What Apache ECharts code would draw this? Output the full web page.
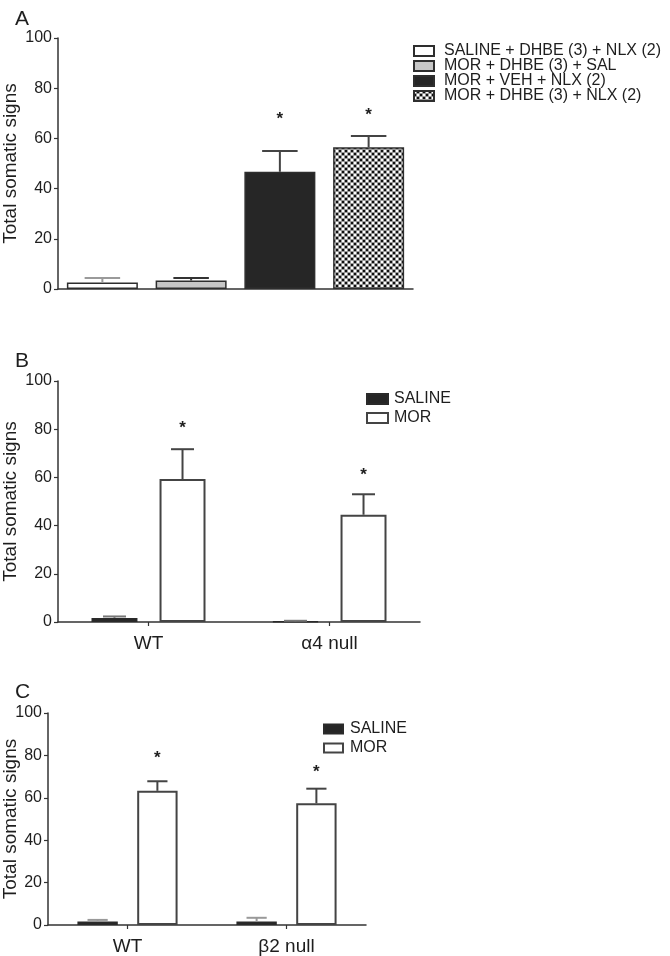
<!DOCTYPE html>
<html><head><meta charset="utf-8">
<script src="https://cdn.jsdelivr.net/npm/echarts@6/dist/echarts.min.js"></script>
<style>html,body{margin:0;padding:0;background:#fff}#c{width:670px;height:956px}</style>
</head><body><div id="c"></div>
<script>
// ---- Panel A data ----
const groupsA = ['SALINE + DHBE (3) + NLX (2)', 'MOR + DHBE (3) + SAL', 'MOR + VEH + NLX (2)', 'MOR + DHBE (3) + NLX (2)'];
const meansA = [2.6, 3.4, 46.7, 56.5];
const errsA = [1.8, 1.0, 8.3, 4.5];
const starsA = [null, null, 68.6, 70.0];
// ---- Panel B data ----
const catsB = ['WT', 'α4 null'];
const salineB = [1.7, 0.3];
const salineErrB = [0.6, 0.2];
const morB = [59.3, 44.5];
const morErrB = [12.4, 8.5];
const starsB = [81.0, 61.9];
// ---- Panel C data ----
const catsC = ['WT', 'β2 null'];
const salineC = [1.6, 1.6];
const salineErrC = [0.8, 1.8];
const morC = [63.3, 57.4];
const morErrC = [4.5, 6.9];
const starsC = [79.4, 72.8];
const yTicks = [0, 20, 40, 60, 80, 100];

const FONT = "'Liberation Sans', Arial, sans-serif";
const TXT = '#1e1e1e';
const AX = '#333';

// checker pattern for 4th bar
const pc = document.createElement('canvas');
pc.width = 6; pc.height = 6;
const g = pc.getContext('2d');
g.fillStyle = '#9a9a9a'; g.fillRect(0,0,6,6);
g.fillStyle = '#ffffff'; g.fillRect(0,0,2,2); g.fillRect(3,3,2,2);
g.fillStyle = '#111111'; g.fillRect(3,0,2,2); g.fillRect(0,3,2,2);
const pattern = {image: pc, repeat: 'repeat'};

const chart = echarts.init(document.getElementById('c'), null, {renderer: 'canvas'});

function yAxis(gi, nameGap) {
  return {
    type: 'value', gridIndex: gi, min: 0, max: 100, interval: 20,
    name: 'Total somatic signs', nameLocation: 'middle', nameGap: nameGap, nameMoveOverlap: false,
    nameTextStyle: {fontFamily: FONT, fontSize: 19, color: TXT},
    axisLine: {show: true, lineStyle: {color: AX, width: 1.5}},
    axisTick: {show: true, length: 4, lineStyle: {color: AX, width: 1.2}},
    axisLabel: {fontFamily: FONT, fontSize: 16, color: TXT, margin: 6,
      formatter: v => yTicks.includes(v) ? String(v) : ''},
    splitLine: {show: false}
  };
}
function xAxis(gi, cats, showLab) {
  return {
    type: 'category', gridIndex: gi, data: cats,
    axisLine: {show: true, lineStyle: {color: AX, width: 1.5}},
    axisTick: {show: showLab, alignWithLabel: true, length: 4, lineStyle: {color: AX, width: 1.2}},
    axisLabel: {show: showLab, fontFamily: FONT, fontSize: 19, color: TXT, margin: 12}
  };
}
function errSeries(gi, means, errs, side, bwFrac, gapFrac, color) {
  return {
    type: 'custom', xAxisIndex: gi, yAxisIndex: gi, z: 5, silent: true,
    data: means.map((m, i) => [i, m, errs[i]]),
    renderItem: function (params, api) {
      const cat = api.value(0), m = api.value(1), e = api.value(2);
      const cw = api.size([1, 0])[0];
      const bw = cw * bwFrac;
      const off = side * (bw + bw * gapFrac) / 2;
      const p0 = api.coord([cat, m]);
      const p1 = api.coord([cat, m + e]);
      const x = p0[0] + off;
      const half = bw / 4;
      const c = Array.isArray(color) ? color[params.dataIndex] : color;
      return {type: 'group', children: [
        {type: 'line', shape: {x1: x, y1: p0[1], x2: x, y2: p1[1]}, style: {stroke: c, lineWidth: 2}},
        {type: 'line', shape: {x1: x - half, y1: p1[1], x2: x + half, y2: p1[1]}, style: {stroke: c, lineWidth: 2}}
      ]};
    }
  };
}
function starSeries(gi, stars, side, bwFrac, gapFrac) {
  return {
    type: 'custom', xAxisIndex: gi, yAxisIndex: gi, z: 6, silent: true,
    data: stars.map((s, i) => [i, s == null ? '-' : s]),
    renderItem: function (params, api) {
      const v = api.value(1);
      if (isNaN(v)) return null;
      const cat = api.value(0);
      const cw = api.size([1, 0])[0];
      const bw = cw * bwFrac;
      const off = side * (bw + bw * gapFrac) / 2;
      const p = api.coord([cat, v]);
      return {type: 'text', x: p[0] + off, y: p[1] + 2,
        style: {text: '*', fontFamily: FONT, fontSize: 17, fontWeight: 'bold', fill: TXT, align: 'center', verticalAlign: 'middle'}};
    }
  };
}
function aSeries(idx, style) {
  return {
    name: groupsA[idx], type: 'bar', xAxisIndex: 0, yAxisIndex: 0, stack: 'A', barWidth: '80%',
    data: meansA.map((v, i) => i === idx ? v : '-'),
    itemStyle: Object.assign({borderColor: '#2e2e2e', borderWidth: 1.5}, style)
  };
}
const BW = 0.254, GAP = 0.48;
function grpSeries(gi, name, vals, style) {
  return {
    name: name, type: 'bar', xAxisIndex: gi, yAxisIndex: gi, barWidth: (BW * 100) + '%', barGap: (GAP * 100) + '%',
    data: vals, itemStyle: style
  };
}
const salStyle = {color: '#262626', borderColor: '#2a2a2a', borderWidth: 1.5};
const morStyle = {color: '#ffffff', borderColor: '#444', borderWidth: 2};

const option = {
  backgroundColor: '#fff',
  animation: false,
  title: [
    {text: 'A', left: 10, top: 4, textStyle: {fontFamily: FONT, fontSize: 21, fontWeight: 'normal', color: TXT}},
    {text: 'B', left: 10, top: 346, textStyle: {fontFamily: FONT, fontSize: 21, fontWeight: 'normal', color: TXT}},
    {text: 'C', left: 10, top: 677, textStyle: {fontFamily: FONT, fontSize: 21, fontWeight: 'normal', color: TXT}}
  ],
  grid: [
    {left: 58, top: 38, width: 355, height: 251, outerBoundsMode: 'none', containLabel: false},
    {left: 58, top: 381, width: 362, height: 241, outerBoundsMode: 'none', containLabel: false},
    {left: 48, top: 713, width: 318, height: 212, outerBoundsMode: 'none', containLabel: false}
  ],
  xAxis: [xAxis(0, groupsA, false), xAxis(1, catsB, true), xAxis(2, catsC, true)],
  yAxis: [yAxis(0, 38), yAxis(1, 38), yAxis(2, 28)],
  legend: [
    {data: groupsA, orient: 'vertical', left: 408, top: 38, itemWidth: 20, itemHeight: 10, itemGap: -1, icon: 'rect',
      textStyle: {fontFamily: FONT, fontSize: 16, lineHeight: 15, color: TXT, padding: [0, 0, 0, 5]}},
    {data: ['SALINE', 'MOR'], orient: 'vertical', left: 361, top: 386, itemWidth: 21, itemHeight: 10, itemGap: 3, icon: 'rect',
      textStyle: {fontFamily: FONT, fontSize: 16, color: TXT, padding: [0, 0, 0, 1]}},
    {data: ['SALINE', 'MOR'], orient: 'vertical', left: 318, top: 716, itemWidth: 19, itemHeight: 9, itemGap: 3, icon: 'rect',
      textStyle: {fontFamily: FONT, fontSize: 16, color: TXT, padding: [0, 0, 0, 2]}}
  ],
  series: [
    aSeries(0, {color: '#ffffff'}),
    aSeries(1, {color: '#c6c6c6'}),
    aSeries(2, {color: '#262626'}),
    aSeries(3, {color: pattern}),
    errSeries(0, meansA, errsA, 0, 0.8, 0, ['#9a9a9a', '#333', '#444', '#444']),
    starSeries(0, starsA, 0, 0.8, 0),
    grpSeries(1, 'SALINE', salineB, salStyle),
    grpSeries(1, 'MOR', morB, morStyle),
    errSeries(1, salineB, salineErrB, -1, BW, GAP, '#777'),
    errSeries(1, morB, morErrB, 1, BW, GAP, '#444'),
    starSeries(1, starsB, 1, BW, GAP),
    grpSeries(2, 'SALINE', salineC, salStyle),
    grpSeries(2, 'MOR', morC, morStyle),
    errSeries(2, salineC, salineErrC, -1, BW, GAP, '#999'),
    errSeries(2, morC, morErrC, 1, BW, GAP, '#444'),
    starSeries(2, starsC, 1, BW, GAP)
  ]
};
chart.setOption(option);
</script>
</body></html>
